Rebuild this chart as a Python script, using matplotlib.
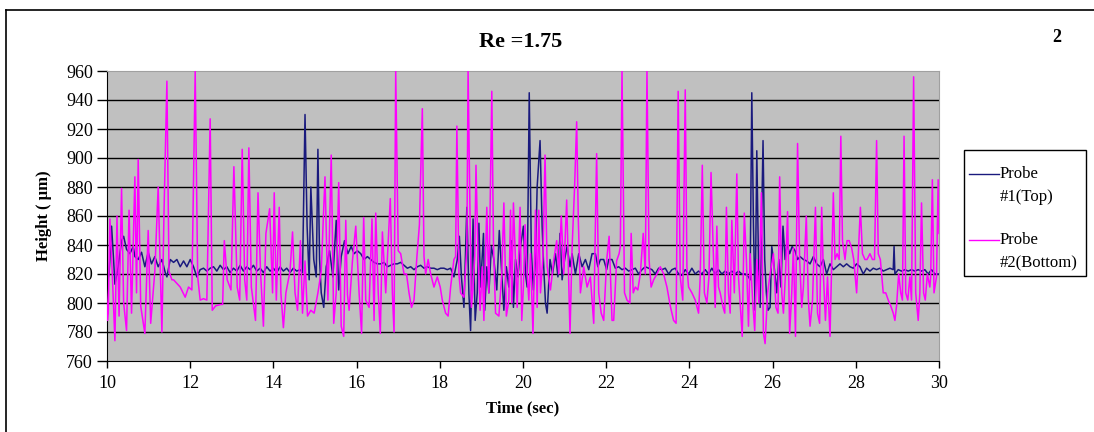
import matplotlib
matplotlib.use("Agg")
import matplotlib.pyplot as plt
from matplotlib.lines import Line2D
from matplotlib.patches import Rectangle

# Probe #1 (top) - time in sec, height in um
t_top = [
    9.98, 10.05, 10.11, 10.16, 10.19, 10.27, 10.35, 10.40, 10.47, 10.55,
    10.63, 10.67, 10.75, 10.83, 10.91, 10.99, 11.07, 11.15, 11.23, 11.32,
    11.40, 11.44, 11.52, 11.60, 11.68, 11.76, 11.84, 11.92, 12.00, 12.08,
    12.16, 12.24, 12.32, 12.40, 12.48, 12.56, 12.64, 12.72, 12.80, 12.88,
    12.96, 13.04, 13.12, 13.20, 13.28, 13.36, 13.44, 13.52, 13.60, 13.68,
    13.76, 13.84, 13.92, 14.00, 14.08, 14.16, 14.24, 14.32, 14.40, 14.48,
    14.56, 14.64, 14.70, 14.76, 14.81, 14.86, 14.90, 14.97, 15.03, 15.07,
    15.11, 15.15, 15.21, 15.27, 15.35, 15.43, 15.51, 15.57, 15.63, 15.71,
    15.79, 15.87, 15.94, 16.02, 16.10, 16.18, 16.26, 16.34, 16.42, 16.50,
    16.58, 16.66, 16.74, 16.82, 16.90, 16.98, 17.06, 17.14, 17.22, 17.30,
    17.38, 17.46, 17.54, 17.62, 17.70, 17.78, 17.86, 17.94, 18.02, 18.10,
    18.18, 18.26, 18.34, 18.42, 18.47, 18.52, 18.58, 18.65, 18.70, 18.74,
    18.80, 18.85, 18.90, 18.94, 18.98, 19.05, 19.08, 19.13, 19.18, 19.24,
    19.30, 19.37, 19.43, 19.48, 19.54, 19.60, 19.66, 19.72, 19.77, 19.82,
    19.88, 19.94, 20.01, 20.06, 20.10, 20.15, 20.20, 20.25, 20.30, 20.34,
    20.41, 20.46, 20.49, 20.54, 20.58, 20.65, 20.71, 20.78, 20.84, 20.89,
    20.94, 21.00, 21.06, 21.13, 21.18, 21.26, 21.34, 21.42, 21.50, 21.58,
    21.66, 21.74, 21.80, 21.86, 21.94, 22.01, 22.06, 22.14, 22.22, 22.30,
    22.38, 22.46, 22.54, 22.62, 22.70, 22.78, 22.86, 22.94, 23.02, 23.10,
    23.18, 23.26, 23.34, 23.42, 23.50, 23.58, 23.66, 23.74, 23.82, 23.90,
    23.98, 24.06, 24.14, 24.22, 24.30, 24.38, 24.46, 24.54, 24.62, 24.70,
    24.78, 24.86, 24.94, 25.02, 25.10, 25.18, 25.26, 25.34, 25.42, 25.46,
    25.50, 25.54, 25.58, 25.62, 25.66, 25.70, 25.77, 25.81, 25.85, 25.89,
    25.94, 25.98, 26.02, 26.10, 26.15, 26.20, 26.25, 26.30, 26.34, 26.41,
    26.47, 26.54, 26.60, 26.66, 26.74, 26.82, 26.90, 26.98, 27.06, 27.14,
    27.22, 27.30, 27.38, 27.46, 27.54, 27.62, 27.70, 27.78, 27.86, 27.94,
    28.02, 28.10, 28.18, 28.26, 28.34, 28.42, 28.50, 28.58, 28.66, 28.74,
    28.82, 28.90, 28.92, 28.94, 29.02, 29.10, 29.18, 29.26, 29.34, 29.42,
    29.50, 29.58, 29.66, 29.74, 29.82, 29.90, 30.00,
]
h_top = [
    811, 820, 853, 829, 813, 825, 843, 846, 837, 834,
    839, 832, 830, 835, 825, 835, 827, 832, 825, 830,
    821, 818, 830, 828, 830, 825, 829, 825, 830, 825,
    818, 823, 824, 822, 824, 825, 822, 826, 823, 825,
    821, 824, 822, 826, 822, 825, 823, 826, 822, 824,
    821, 825, 822, 824, 821, 825, 822, 824, 821, 824,
    822, 823, 821, 930, 853, 816, 880, 830, 818, 906,
    830, 807, 797, 825, 836, 818, 857, 809, 832, 843,
    834, 839, 834, 836, 834, 830, 832, 830, 828, 827,
    827, 828, 825, 826, 827, 827, 828, 826, 824, 825,
    823, 825, 826, 824, 825, 824, 824, 823, 824, 824,
    823, 824, 818, 830, 846, 818, 797, 866, 806, 781,
    858, 788, 807, 855, 811, 848, 795, 825, 807, 839,
    830, 809, 850, 825, 795, 825, 811, 843, 797, 830,
    818, 839, 853, 820, 811, 945, 836, 809, 830, 880,
    912, 853, 830, 800, 793, 830, 820, 834, 818, 848,
    816, 830, 839, 825, 834, 820, 834, 825, 830, 823,
    834, 834, 825, 830, 830, 823, 830, 830, 824, 825,
    823, 824, 822, 823, 824, 820, 823, 825, 824, 823,
    820, 824, 823, 824, 820, 823, 824, 820, 819, 823,
    820, 824, 820, 822, 820, 823, 820, 824, 820, 823,
    820, 822, 820, 822, 820, 822, 820, 820, 818, 816,
    945, 853, 795, 905, 830, 797, 912, 830, 807, 795,
    797, 839, 830, 807, 830, 811, 853, 830, 841, 834,
    839, 836, 830, 832, 830, 829, 827, 832, 827, 825,
    830, 820, 827, 823, 825, 827, 825, 827, 825, 824,
    827, 825, 820, 824, 822, 824, 823, 824, 822, 823,
    824, 823, 839, 820, 823, 822, 823, 822, 823, 822,
    823, 822, 823, 820, 823, 820, 820,
]

# Probe #2 (bottom)
t_bottom = [
    9.98, 10.01, 10.03, 10.07, 10.13, 10.19, 10.24, 10.29, 10.35, 10.40,
    10.47, 10.53, 10.59, 10.67, 10.71, 10.75, 10.81, 10.91, 10.99, 11.05,
    11.15, 11.23, 11.32, 11.37, 11.44, 11.49, 11.56, 11.60, 11.76, 11.88,
    11.96, 12.04, 12.12, 12.18, 12.24, 12.32, 12.40, 12.48, 12.53, 12.61,
    12.73, 12.78, 12.82, 12.89, 12.98, 13.05, 13.13, 13.19, 13.25, 13.31,
    13.36, 13.41, 13.47, 13.57, 13.63, 13.69, 13.76, 13.82, 13.91, 13.98,
    14.02, 14.07, 14.14, 14.18, 14.24, 14.30, 14.40, 14.46, 14.52, 14.58,
    14.65, 14.70, 14.76, 14.82, 14.90, 14.98, 15.07, 15.15, 15.24, 15.31,
    15.39, 15.45, 15.51, 15.57, 15.63, 15.69, 15.74, 15.78, 15.82, 15.90,
    15.98, 16.06, 16.12, 16.17, 16.22, 16.30, 16.37, 16.42, 16.46, 16.52,
    16.57, 16.62, 16.70, 16.81, 16.86, 16.90, 16.94, 17.00, 17.06, 17.14,
    17.20, 17.26, 17.32, 17.38, 17.45, 17.51, 17.58, 17.62, 17.66, 17.72,
    17.78, 17.86, 17.94, 18.01, 18.06, 18.14, 18.20, 18.26, 18.34, 18.38,
    18.41, 18.46, 18.50, 18.58, 18.65, 18.68, 18.73, 18.76, 18.80, 18.84,
    18.87, 18.92, 18.97, 19.02, 19.06, 19.13, 19.18, 19.25, 19.29, 19.34,
    19.42, 19.49, 19.54, 19.60, 19.66, 19.70, 19.73, 19.77, 19.82, 19.86,
    19.93, 19.97, 20.01, 20.05, 20.10, 20.14, 20.18, 20.24, 20.30, 20.34,
    20.38, 20.42, 20.48, 20.53, 20.58, 20.66, 20.74, 20.81, 20.86, 20.92,
    20.98, 21.05, 21.13, 21.18, 21.24, 21.29, 21.33, 21.38, 21.46, 21.54,
    21.62, 21.70, 21.77, 21.82, 21.88, 21.94, 22.01, 22.07, 22.14, 22.18,
    22.25, 22.31, 22.34, 22.38, 22.44, 22.50, 22.57, 22.60, 22.65, 22.70,
    22.76, 22.82, 22.89, 22.94, 22.98, 23.03, 23.08, 23.14, 23.22, 23.30,
    23.38, 23.46, 23.54, 23.62, 23.68, 23.73, 23.78, 23.84, 23.90, 23.94,
    23.98, 24.06, 24.14, 24.22, 24.26, 24.31, 24.36, 24.42, 24.47, 24.52,
    24.57, 24.62, 24.66, 24.70, 24.74, 24.81, 24.85, 24.89, 24.94, 24.98,
    25.02, 25.08, 25.14, 25.18, 25.22, 25.27, 25.32, 25.37, 25.42, 25.46,
    25.52, 25.57, 25.62, 25.67, 25.73, 25.78, 25.82, 25.88, 25.94, 26.02,
    26.08, 26.13, 26.17, 26.22, 26.26, 26.31, 26.36, 26.41, 26.46, 26.50,
    26.55, 26.60, 26.65, 26.70, 26.74, 26.81, 26.86, 26.90, 26.96, 27.03,
    27.08, 27.13, 27.18, 27.22, 27.27, 27.32, 27.38, 27.46, 27.50, 27.55,
    27.60, 27.64, 27.68, 27.74, 27.79, 27.84, 27.90, 27.95, 28.02, 28.06,
    28.11, 28.16, 28.22, 28.27, 28.34, 28.40, 28.45, 28.50, 28.54, 28.59,
    28.66, 28.72, 28.78, 28.84, 28.90, 28.94, 28.98, 29.03, 29.08, 29.12,
    29.16, 29.20, 29.25, 29.30, 29.34, 29.39, 29.44, 29.50, 29.54, 29.58,
    29.63, 29.67, 29.72, 29.78, 29.80, 29.84, 29.88, 29.94, 29.98, 30.00,
]
h_bottom = [
    811, 788, 793, 858, 818, 774, 860, 791, 879, 800,
    781, 864, 793, 887, 807, 899, 798, 779, 850, 786,
    822, 880, 780, 862, 953, 822, 816, 816, 811, 804,
    811, 809, 960, 818, 802, 803, 802, 927, 795, 798,
    799, 799, 843, 816, 809, 894, 811, 802, 906, 816,
    802, 907, 811, 788, 876, 822, 784, 848, 865, 807,
    876, 802, 866, 807, 783, 807, 822, 849, 807, 795,
    843, 793, 829, 791, 795, 793, 807, 822, 887, 802,
    902, 786, 807, 883, 784, 777, 857, 806, 795, 829,
    853, 807, 779, 859, 802, 797, 858, 788, 862, 807,
    779, 849, 807, 872, 807, 780, 960, 836, 834, 820,
    820, 807, 797, 802, 832, 854, 934, 832, 820, 830,
    820, 811, 818, 811, 802, 793, 791, 811, 830, 832,
    922, 820, 807, 804, 838, 960, 853, 797, 811, 832,
    895, 832, 795, 825, 788, 866, 807, 946, 841, 793,
    791, 820, 869, 791, 802, 864, 800, 869, 830, 797,
    866, 788, 811, 854, 820, 802, 834, 779, 864, 797,
    864, 807, 832, 902, 825, 809, 830, 843, 820, 860,
    820, 871, 779, 838, 880, 925, 857, 807, 825, 811,
    818, 786, 903, 807, 793, 788, 829, 846, 788, 788,
    829, 834, 839, 960, 807, 802, 800, 848, 807, 811,
    809, 820, 848, 820, 960, 830, 811, 816, 820, 825,
    820, 811, 798, 788, 786, 946, 818, 802, 947, 825,
    811, 807, 802, 793, 818, 895, 807, 800, 818, 890,
    839, 797, 853, 811, 807, 797, 793, 866, 807, 793,
    857, 807, 889, 818, 800, 777, 862, 830, 784, 834,
    802, 781, 830, 800, 876, 779, 772, 807, 820, 834,
    797, 793, 887, 807, 793, 820, 863, 779, 807, 838,
    777, 910, 830, 797, 811, 860, 802, 784, 802, 866,
    793, 786, 866, 820, 788, 818, 777, 876, 830, 834,
    830, 915, 843, 830, 843, 843, 838, 830, 807, 834,
    866, 834, 830, 830, 834, 830, 830, 912, 834, 830,
    807, 807, 802, 798, 793, 788, 798, 820, 807, 802,
    915, 807, 802, 818, 802, 956, 807, 788, 807, 869,
    807, 802, 820, 811, 818, 885, 807, 818, 885, 848,
]

x_ticks = list(range(10, 31, 2))
y_ticks = list(range(760, 961, 20))

serif = "Liberation Serif"
blue = "#1a1a7e"
magenta = "#ff00ff"

W, H = 1094, 432
fig = plt.figure(figsize=(W / 100, H / 100), dpi=100)
ax = fig.add_axes([107 / W, 1 - 361 / H, (939 - 107) / W, (361 - 71) / H])
ax.set_facecolor("#c0c0c0")

for v in y_ticks[1:-1]:
    ax.axhline(v, color="black", lw=1.0, zorder=1)

# Excel draws the second series over the first
ax.plot(t_top, h_top, color=blue, lw=1.1, zorder=2)
ax.plot(t_bottom, h_bottom, color=magenta, lw=1.1, zorder=3)

ax.set_xlim(10, 30)
ax.set_ylim(760, 960)
ax.set_xticks(x_ticks)
ax.set_yticks(y_ticks)
ax.tick_params(axis="y", length=7, width=1, pad=3, labelsize=13)
ax.tick_params(axis="x", length=5, width=1, pad=5, labelsize=13)
for lab in ax.get_xticklabels() + ax.get_yticklabels():
    lab.set_family(serif)
for s in ["left", "bottom"]:
    ax.spines[s].set_color("black")
for s in ["top", "right"]:
    ax.spines[s].set_color("#a0a0a0")

ax.set_xlabel("Time (sec)", fontsize=12, fontweight="bold", family=serif, labelpad=6)
ax.set_ylabel("Height ( μm)", fontsize=12, fontweight="bold", family=serif, labelpad=10)

fig.text(521 / W, 1 - 42 / H, "Re =1.75", ha="center", va="center",
         fontsize=16, fontweight="bold", family=serif)
fig.text(1057 / W, 1 - 38 / H, "2", ha="center", va="center",
         fontsize=13, fontweight="bold", family=serif)

# outer frame
fig.add_artist(Line2D([6 / W, 1], [1 - 10 / H, 1 - 10 / H], transform=fig.transFigure,
                      color="black", lw=1.2))
fig.add_artist(Line2D([6 / W, 6 / W], [0, 1 - 10 / H], transform=fig.transFigure,
                      color="black", lw=1.2))

# legend box
fig.add_artist(Rectangle((964 / W, 1 - 276 / H), (1086 - 964) / W, (276 - 150) / H,
                         transform=fig.transFigure, facecolor="white",
                         edgecolor="black", lw=1.0))
for y0, col, l1, l2 in [(174, blue, "Probe", "#1(Top)"), (240, magenta, "Probe", "#2(Bottom)")]:
    fig.add_artist(Line2D([969 / W, 999 / W], [1 - y0 / H, 1 - y0 / H],
                          transform=fig.transFigure, color=col, lw=1.0))
    fig.text(1000 / W, 1 - y0 / H, l1, ha="left", va="center", fontsize=12, family=serif)
    fig.text(1000 / W, 1 - (y0 + 23) / H, l2, ha="left", va="center", fontsize=12, family=serif)

fig.savefig("out.png", dpi=100, facecolor="white")
